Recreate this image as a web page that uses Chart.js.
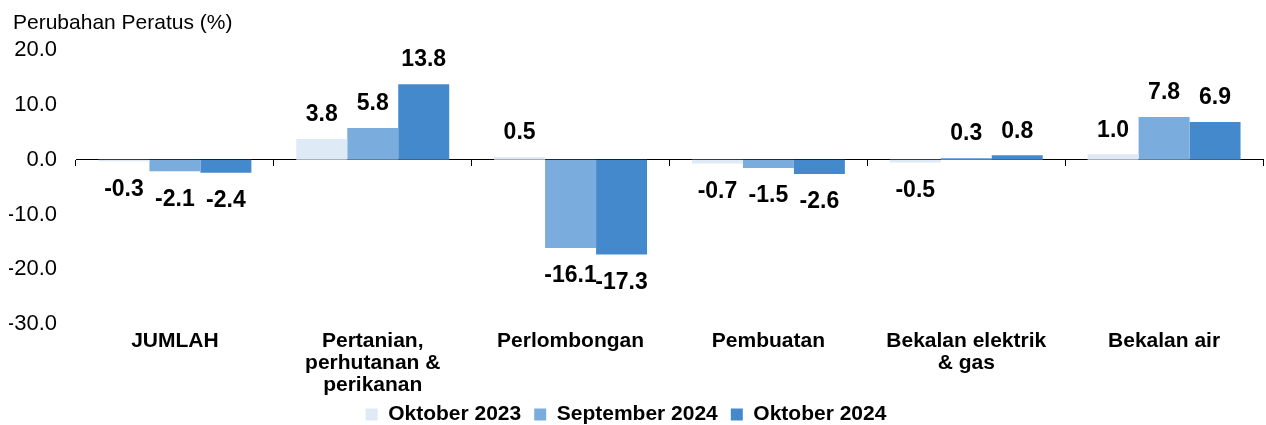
<!DOCTYPE html>
<html>
<head>
<meta charset="utf-8">
<script src="https://cdn.jsdelivr.net/npm/chart.js@4.4.1/dist/chart.umd.min.js"></script>
<style>
html,body{margin:0;padding:0;background:#fff;}
#wrap{width:1266px;height:425px;position:relative;}
</style>
</head>
<body>
<div id="wrap"><canvas id="c" width="1266" height="425"></canvas></div>
<script>
const categories = [
  "JUMLAH",
  ["Pertanian,", "perhutanan &", "perikanan"],
  "Perlombongan",
  "Pembuatan",
  ["Bekalan elektrik", "& gas"],
  "Bekalan air"
];
const seriesNames = ["Oktober 2023", "September 2024", "Oktober 2024"];
const okt2023 = [-0.3, 3.8, 0.5, -0.7, -0.5, 1.0];
const sep2024 = [-2.1, 5.8, -16.1, -1.5, 0.3, 7.8];
const okt2024 = [-2.4, 13.8, -17.3, -2.6, 0.8, 6.9];
const yTicks = [-30, -20, -10, 0, 10, 20];
const colors = ["#DEEAF6", "#7AADDD", "#4589CD"];
const FONT = "'Liberation Sans', Arial, sans-serif";

const helperPlugin = {
  id: 'helper',
  afterInit(chart) {
    if (chart.legend) {
      const lg = chart.legend;
      const orig = lg.fit.bind(lg);
      lg.fit = function () { orig(); this.height = 21; };
    }
  },
  afterLayout(chart) {
    const lg = chart.legend;
    if (lg) {
      lg.top -= 13;
      lg.height = lg.bottom - lg.top;
      lg.left -= 10; lg.right -= 10;
    }
    const tb = chart.titleBlock;
    if (tb) { tb.left += 4; tb.right += 4; }
  },
  afterDatasetsDraw(chart) {
    const ctx = chart.ctx;
    ctx.save();
    ctx.font = "bold 23px " + FONT;
    ctx.fillStyle = "#000";
    ctx.textAlign = "center";
    ctx.textBaseline = "middle";
    chart.data.datasets.forEach((ds, di) => {
      const meta = chart.getDatasetMeta(di);
      meta.data.forEach((el, i) => {
        const v = ds.data[i];
        const y = v >= 0 ? el.y - 24 : el.y + 28;
        ctx.fillText(v.toFixed(1), el.x, y);
      });
    });
    ctx.restore();
  }
};

new Chart(document.getElementById('c'), {
  type: 'bar',
  data: {
    labels: categories,
    datasets: [
      {label: seriesNames[0], data: okt2023, backgroundColor: colors[0]},
      {label: seriesNames[1], data: sep2024, backgroundColor: colors[1]},
      {label: seriesNames[2], data: okt2024, backgroundColor: colors[2]}
    ]
  },
  options: {
    responsive: false,
    animation: false,
    layout: {padding: {left: 9, right: 3, top: 0, bottom: 0}},
    datasets: {bar: {barPercentage: 1, categoryPercentage: 0.773}},
    plugins: {
      title: {
        display: true,
        text: "Perubahan Peratus (%)",
        align: 'start',
        color: '#000',
        font: {family: FONT, size: 21, weight: 'normal', lineHeight: 1.2},
        padding: {top: 11, bottom: 14}
      },
      legend: {
        position: 'bottom',
        labels: {
          boxWidth: 12, boxHeight: 12, padding: 13,
          color: '#000',
          font: {family: FONT, size: 21, weight: 'bold'}
        }
      },
      tooltip: {enabled: false}
    },
    scales: {
      x: {
        type: 'category',
        position: {y: 0},
        offset: true,
        ticks: {display: false},
        border: {display: true, color: '#000', width: 1},
        grid: {display: true, offset: true, drawOnChartArea: false, drawTicks: true, tickLength: 6, color: '#000'}
      },
      x2: {
        type: 'category',
        position: 'bottom',
        offset: true,
        border: {display: false},
        grid: {display: false, drawTicks: false},
        afterFit(scale) { scale.height = 80; },
        ticks: {color: '#000', font: {family: FONT, size: 21, weight: 'bold', lineHeight: 1.05}, padding: 6, maxRotation: 0, autoSkip: false}
      },
      y: {
        min: yTicks[0],
        max: yTicks[yTicks.length - 1],
        afterBuildTicks(scale) { scale.ticks = yTicks.map(v => ({value: v})); },
        afterFit(scale) { scale.width = 67; },
        border: {display: false},
        grid: {display: false, drawTicks: false},
        ticks: {
          color: '#000',
          padding: 19,
          font: {family: FONT, size: 22},
          callback: v => Number(v).toFixed(1)
        }
      }
    }
  },
  plugins: [helperPlugin]
});
</script>
</body>
</html>
